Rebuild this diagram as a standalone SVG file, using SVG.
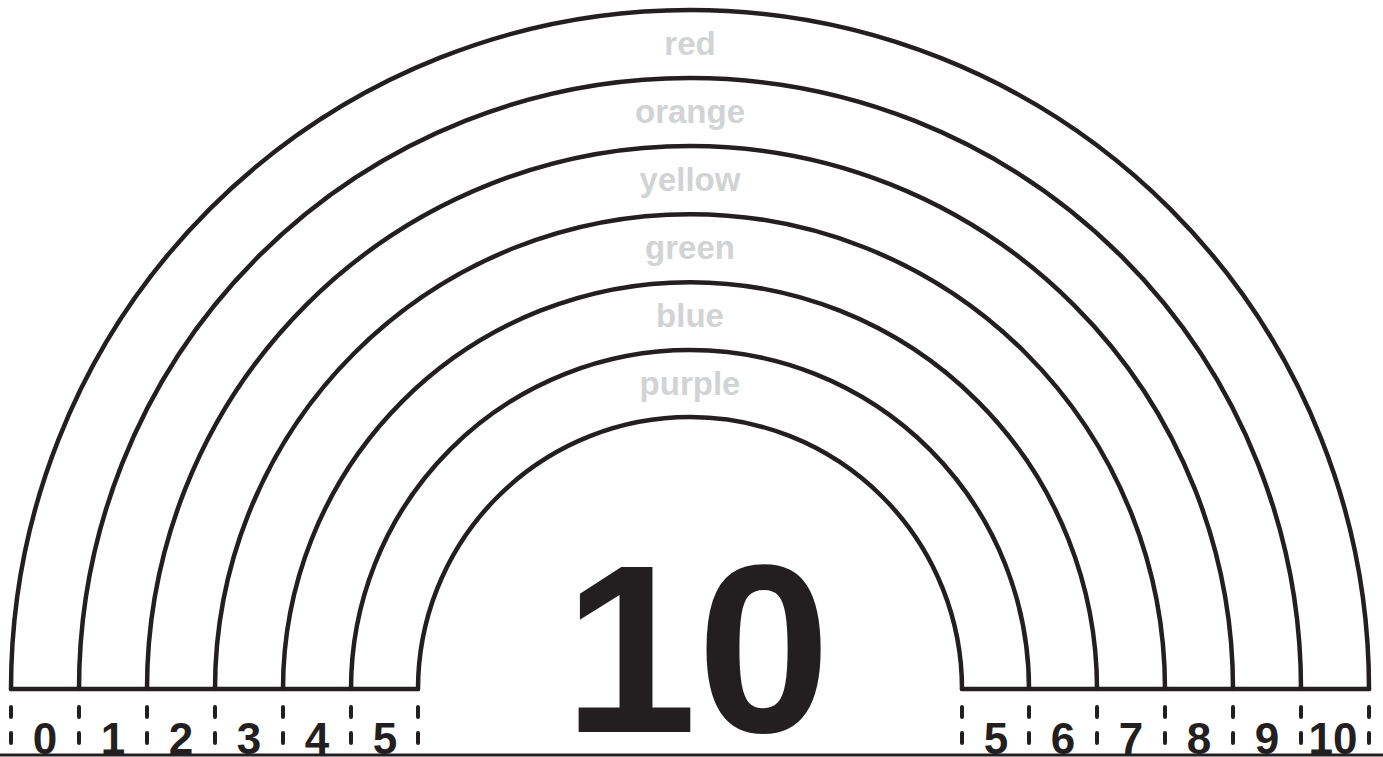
<svg xmlns="http://www.w3.org/2000/svg" width="1383" height="757" viewBox="0 0 1383 757">
<style>
.arc{fill:none;stroke:#231f20;stroke-width:4.5;stroke-linecap:round}
.base{stroke:#231f20;stroke-width:4.5;stroke-linecap:round}
.tick{stroke:#231f20;stroke-width:4;stroke-linecap:round;stroke-dasharray:10 16}
.lbl{font-family:"Liberation Sans",Arial,sans-serif;font-weight:700;font-size:33px;fill:#d1d3d4;text-anchor:middle}
.num{font-family:"Liberation Sans",Arial,sans-serif;font-weight:700;font-size:44px;fill:#231f20;text-anchor:middle}
.big{font-family:"Liberation Sans",Arial,sans-serif;font-weight:700;font-size:240px;fill:#231f20;text-anchor:middle}
</style>
<rect width="1383" height="757" fill="#ffffff"/>
<g id="arcs">
<path class="arc" d="M11 689 A679 679 0 0 1 1369 689"/>
<path class="arc" d="M79 689 A611 611 0 0 1 1301 689"/>
<path class="arc" d="M147 689 A543 543 0 0 1 1233 689"/>
<path class="arc" d="M215 689 A475 475 0 0 1 1165 689"/>
<path class="arc" d="M283 689 A407 407 0 0 1 1097 689"/>
<path class="arc" d="M351 689 A339 339 0 0 1 1029 689"/>
<path class="arc" d="M418 689 A272 272 0 0 1 962 689"/>
</g>
<g id="baseline">
<line class="base" x1="11" y1="689" x2="418" y2="689"/>
<line class="base" x1="962" y1="689" x2="1369" y2="689"/>
</g>
<g id="ticks">
<line class="tick" x1="11" y1="707" x2="11" y2="743"/>
<line class="tick" x1="79" y1="707" x2="79" y2="743"/>
<line class="tick" x1="147" y1="707" x2="147" y2="743"/>
<line class="tick" x1="215" y1="707" x2="215" y2="743"/>
<line class="tick" x1="283" y1="707" x2="283" y2="743"/>
<line class="tick" x1="351" y1="707" x2="351" y2="743"/>
<line class="tick" x1="418" y1="707" x2="418" y2="743"/>
<line class="tick" x1="962" y1="707" x2="962" y2="743"/>
<line class="tick" x1="1029" y1="707" x2="1029" y2="743"/>
<line class="tick" x1="1097" y1="707" x2="1097" y2="743"/>
<line class="tick" x1="1165" y1="707" x2="1165" y2="743"/>
<line class="tick" x1="1233" y1="707" x2="1233" y2="743"/>
<line class="tick" x1="1301" y1="707" x2="1301" y2="743"/>
<line class="tick" x1="1369" y1="707" x2="1369" y2="743"/>
</g>
<g id="color-labels">
<text class="lbl" x="690" y="55">red</text>
<text class="lbl" x="690" y="123">orange</text>
<text class="lbl" x="690" y="191">yellow</text>
<text class="lbl" x="690" y="259">green</text>
<text class="lbl" x="690" y="327">blue</text>
<text class="lbl" x="690" y="395">purple</text>
</g>
<g id="numbers">
<text class="num" x="45" y="754">0</text>
<text class="num" x="113" y="754">1</text>
<text class="num" x="181" y="754">2</text>
<text class="num" x="249" y="754">3</text>
<text class="num" x="317" y="754">4</text>
<text class="num" x="385" y="754">5</text>
<text class="num" x="996" y="754">5</text>
<text class="num" x="1063" y="754">6</text>
<text class="num" x="1131" y="754">7</text>
<text class="num" x="1199" y="754">8</text>
<text class="num" x="1267" y="754">9</text>
<text class="num" x="1333" y="754">10</text>
</g>
<g id="title">
<text class="big" x="697" y="732">10</text>
</g>
<line id="bottom-edge" x1="0" y1="755" x2="1383" y2="755" stroke="#231f20" stroke-width="3"/>
</svg>
